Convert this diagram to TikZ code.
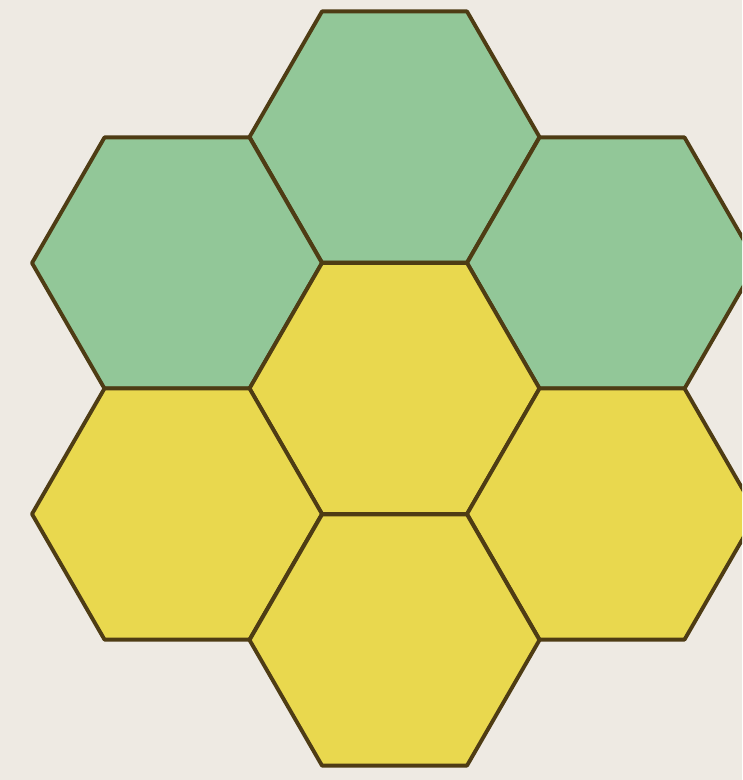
\documentclass[tikz,border=0pt]{standalone}
\definecolor{bgpaper}{RGB}{238,234,227}
\definecolor{hexgreen}{RGB}{146,199,152}
\definecolor{hexyellow}{RGB}{233,216,78}
\definecolor{hexedge}{RGB}{78,60,20}
\tikzset{
  hexline/.style={draw=hexedge, line width=1.1pt, line join=round},
  hexcell/.pic={
    \path[hexline, pic actions] (0:145) -- (60:145) -- (120:145) -- (180:145) -- (240:145) -- (300:145) -- cycle;
  }
}
\begin{document}
\begin{tikzpicture}[x=0.01cm, y=-0.01cm]
  \clip (0,0) rectangle (742,780);
  \fill[bgpaper] (0,0) rectangle (742,780);
  % green row
  \pic[fill=hexgreen] at (394.5,137) {hexcell};
  \pic[fill=hexgreen] at (177,263) {hexcell};
  \pic[fill=hexgreen] at (612,263) {hexcell};
  % yellow cells
  \pic[fill=hexyellow] at (394.5,388.5) {hexcell};
  \pic[fill=hexyellow] at (177,514) {hexcell};
  \pic[fill=hexyellow] at (612,514) {hexcell};
  \pic[fill=hexyellow] at (394.5,640) {hexcell};
\end{tikzpicture}
\end{document}
